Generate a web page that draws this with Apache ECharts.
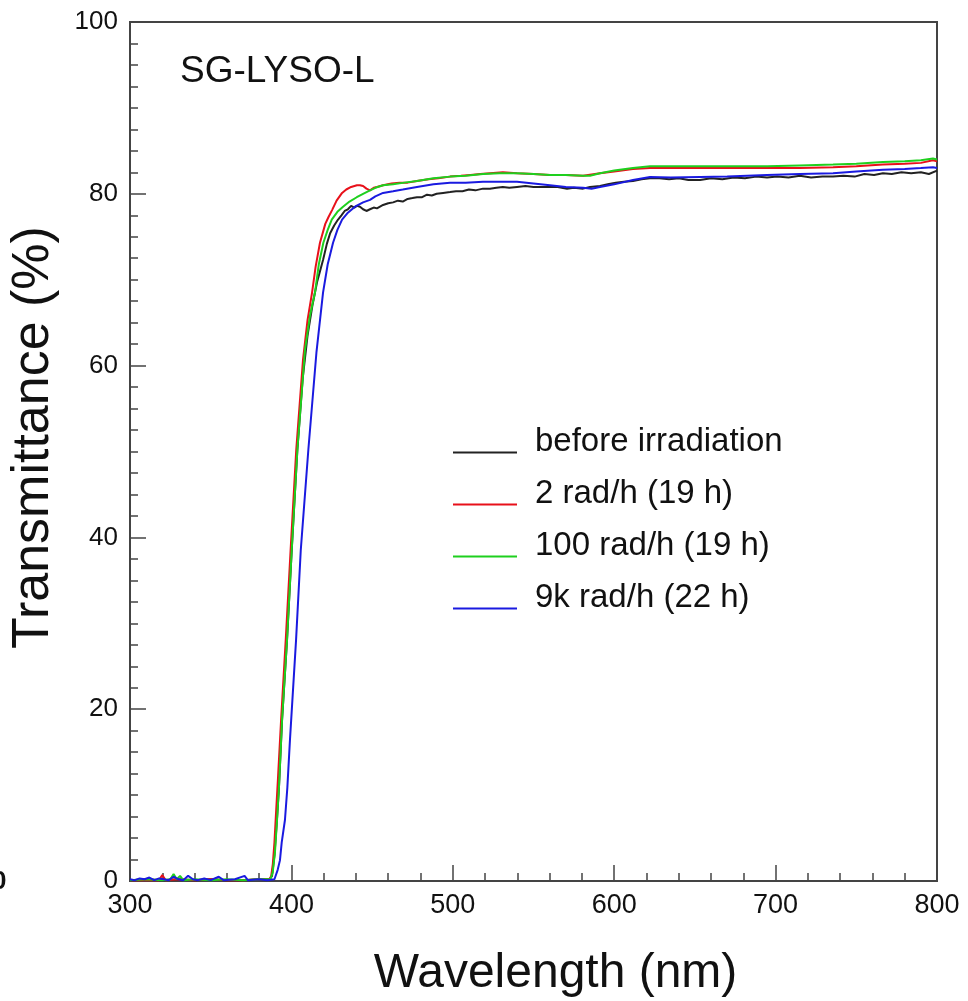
<!DOCTYPE html>
<html>
<head>
<meta charset="utf-8">
<script src="https://cdn.jsdelivr.net/npm/echarts@6/dist/echarts.min.js"></script>
<style>
html,body{margin:0;padding:0;background:#fff;}
#chart{width:968px;height:1001px;}
</style>
</head>
<body>
<div id="chart"></div>
<script>
// ---- data (wavelength nm, transmittance %) ----
const seriesNames = ['before irradiation', '2 rad/h (19 h)', '100 rad/h (19 h)', '9k rad/h (22 h)'];
const xTicks = [300, 400, 500, 600, 700, 800];
const yTicks = [0, 20, 40, 60, 80, 100];

const before = [[300,0.1],[310,0.2],[320,0.1],[330,0.2],[340,0.1],[350,0.2],[360,0.1],[370,0.1],[380,0.2],[386.5,0.2],[388,0.6],[389.5,3],[391,7],[392.3,10.9],[394.2,18.7],[397.3,28.1],[400.2,38.5],[403.7,50.2],[407,58.5],[410,63.5],[413,67.0],[416,69.8],[419.6,72.3],[422,74.2],[424,75.4],[426.5,76.3],[428.9,77.0],[431,77.5],[433,78.0],[435,78.2],[437,78.6],[439,78.4],[440.6,78.6],[442.5,78.5],[444.4,78.2],[446.5,78.0],[448.7,78.2],[451,78.4],[453,78.3],[456.8,78.7],[460,78.9],[463,79.0],[466,79.2],[469,79.1],[472,79.4],[475,79.5],[477.8,79.6],[481,79.6],[484,79.9],[487,79.8],[490,80.0],[494,80.1],[498.3,80.2],[502,80.3],[506,80.3],[510,80.5],[514,80.4],[518.7,80.6],[523,80.6],[527,80.7],[531,80.8],[535,80.7],[539.8,80.8],[545,80.9],[550,80.8],[555,80.8],[560.2,80.8],[565,80.8],[570.8,80.6],[575,80.7],[580.7,80.6],[585,80.8],[591.2,80.9],[596,81.1],[601,81.3],[606,81.4],[611.6,81.5],[617,81.7],[622.2,81.8],[628,81.8],[634,81.7],[640,81.8],[646,81.6],[653.2,81.6],[660,81.8],[667,81.7],[674,81.9],[681,81.8],[688,82.0],[694.7,81.9],[701,82.0],[708,81.9],[715,82.1],[722,81.9],[729,82.0],[735.6,82.0],[742,82.1],[749,82.0],[755,82.3],[761,82.2],[766.5,82.4],[772,82.3],[778,82.5],[784,82.4],[790,82.5],[795,82.3],[800,82.7]];

const rad2 = [[300,0.1],[310,0.1],[318,0.1],[320,0.7],[322,0.1],[330,0.2],[340,0.1],[350,0.2],[360,0.1],[370,0.1],[380,0.2],[386.5,0.2],[387.5,0.6],[388.5,2],[389.5,4.5],[390.5,8],[391.7,12],[393.6,18.7],[396.5,28.1],[399.5,38.5],[403,50.2],[407.2,60.7],[410,65.3],[412.8,68.5],[415,71.5],[417.7,74.3],[421,76.5],[423,77.3],[425.2,78.1],[428,79.2],[431.4,80.1],[434,80.5],[437,80.8],[440.6,81.0],[442.5,81.0],[444.4,80.9],[446.5,80.6],[448.7,80.4],[451,80.7],[453,80.8],[456.8,81.0],[462,81.2],[467,81.3],[472,81.3],[477.8,81.5],[485,81.7],[491,81.8],[498.3,82.0],[505,82.1],[511,82.2],[517,82.3],[523,82.4],[531,82.5],[539.8,82.4],[550,82.3],[560.2,82.2],[570,82.2],[580.7,82.1],[591.2,82.4],[600,82.6],[611.6,82.9],[622.2,83.0],[635,83.0],[653.2,83.0],[670,83.0],[694.7,83.0],[715,83.0],[735.6,83.1],[750,83.2],[766.5,83.4],[780,83.5],[790,83.6],[797.5,83.9],[800,83.8]];

const rad100 = [[300,0.1],[310,0.2],[320,0.1],[325,0.2],[327,0.8],[329,0.2],[331,0.6],[333,0.1],[340,0.2],[350,0.1],[360,0.2],[370,0.1],[380,0.2],[387,0.2],[388.4,1.0],[389.8,3.3],[391.1,7.1],[392.3,10.9],[394.2,18.7],[397.3,28.1],[400.2,38.5],[403.7,50.2],[408.4,61.8],[411.5,65.8],[414.6,68.5],[417,71.8],[419.8,74.3],[422.5,75.8],[425,77.0],[428.5,77.9],[432,78.5],[436,79.1],[440.5,79.6],[444.4,80.0],[448.7,80.4],[452,80.7],[456.8,81.0],[463,81.1],[470,81.3],[477.8,81.5],[488,81.8],[498.3,82.0],[508,82.1],[518.7,82.3],[529,82.4],[539.8,82.4],[550,82.3],[560.2,82.2],[570,82.2],[580.7,82.1],[585,82.1],[591.2,82.4],[600,82.7],[611.6,83.0],[622.2,83.2],[635,83.2],[653.2,83.2],[670,83.2],[694.7,83.2],[715,83.3],[735.6,83.4],[750,83.5],[766.5,83.7],[780,83.8],[790,83.9],[797.5,84.1],[800,84.0]];

const rad9k = [[300,0.2],[303,0.1],[306,0.3],[309,0.2],[312,0.4],[315,0.1],[318,0.3],[321,0.2],[324,0.1],[327,0.5],[330,0.2],[333,0.1],[336,0.6],[339,0.2],[342,0.1],[346,0.3],[350,0.1],[355,0.5],[358,0.1],[365,0.2],[371,0.6],[373,0.1],[380,0.2],[385,0.1],[389.5,0.2],[390.5,0.4],[391.5,1.3],[392.9,2.4],[394,4.5],[396,7.1],[397.5,10.9],[399.1,16.4],[402.9,28.1],[405.8,38.5],[410.5,50.2],[415.5,61.5],[419.6,68.5],[422.5,71.8],[425.8,74.3],[428.5,75.8],[431.4,77.0],[435,77.8],[439.4,78.5],[444.4,79.0],[448.7,79.3],[452,79.7],[456.8,80.1],[463,80.3],[469,80.5],[477.8,80.8],[488,81.1],[498.3,81.3],[508,81.3],[518.7,81.4],[529,81.4],[539.8,81.4],[550,81.2],[560.2,81.0],[570,80.8],[580.7,80.7],[586,80.6],[591.2,80.8],[600,81.1],[611.6,81.6],[622.2,81.95],[635,81.9],[653.2,81.95],[670,82.0],[694.7,82.2],[715,82.3],[735.6,82.4],[750,82.6],[766.5,82.8],[780,82.9],[790,83.0],[797.5,83.1],[800,83.0]];

const seriesData = [before, rad2, rad100, rad9k];
const colors = ['#222222', '#e8101a', '#1ed01e', '#1a1ae0'];

const FONT = 'Liberation Sans, Arial, Helvetica, sans-serif';
const chart = echarts.init(document.getElementById('chart'), null, {renderer: 'canvas'});

const legendIcon = 'path://M0,0L0.05,0L0.05,0.05Z M0,22L64,22L64,24L0,24Z';

chart.setOption({
  animation: false,
  backgroundColor: '#ffffff',
  grid: {left: 130, right: 31, top: 22, bottom: 120, show: true, borderColor: '#444', borderWidth: 2,
    backgroundColor: 'transparent', containLabel: false, outerBoundsMode: 'none'},
  legend: {
    data: seriesNames,
    orient: 'vertical',
    left: 453, top: 425,
    padding: 0,
    itemGap: 19,
    itemWidth: 64, itemHeight: 24,
    icon: legendIcon,
    textStyle: {fontFamily: FONT, fontSize: 33, lineHeight: 33, color: '#111', padding: [0, 0, 0, 13]},
    selectedMode: false
  },
  xAxis: {
    type: 'value', min: 300, max: 800, interval: 100,
    name: 'Wavelength (nm)', nameLocation: 'middle', nameGap: 69,
    nameTextStyle: {fontFamily: FONT, fontSize: 48, color: '#111', padding: [0, 0, 0, 44]},
    axisLine: {show: true, lineStyle: {color: '#444', width: 2}},
    axisTick: {show: true, inside: true, length: 16, lineStyle: {color: '#444', width: 1.5}},
    minorTick: {show: true, splitNumber: 5, length: 8, lineStyle: {color: '#444', width: 1.5}},
    axisLabel: {fontFamily: FONT, fontSize: 27, color: '#111', margin: 11,
      formatter: v => xTicks.includes(v) ? String(v) : ''},
    splitLine: {show: false}
  },
  yAxis: {
    type: 'value', min: 0, max: 100, interval: 20,
    name: 'Transmittance (%)', nameLocation: 'middle', nameGap: 70,
    nameTextStyle: {fontFamily: FONT, fontSize: 52, color: '#111', padding: [0, 0, 0, 28]},
    axisLine: {show: true, lineStyle: {color: '#444', width: 2}},
    axisTick: {show: true, inside: true, length: 16, lineStyle: {color: '#444', width: 1.5}},
    minorTick: {show: true, splitNumber: 8, length: 8, lineStyle: {color: '#444', width: 1.5}},
    axisLabel: {fontFamily: FONT, fontSize: 26, color: '#111', margin: 12,
      formatter: v => yTicks.includes(v) ? String(v) : ''},
    splitLine: {show: false}
  },
  graphic: [
    {type: 'text', left: 180, top: 53, style: {text: 'SG-LYSO-L', fontFamily: FONT, fontSize: 37, fill: '#111'}},
    {type: 'text', left: -8, top: 869, style: {text: '0', fontFamily: FONT, fontSize: 26, fontWeight: 'bold', fill: '#111'}}
  ],
  series: seriesNames.map((n, i) => ({
    name: n, type: 'line', data: seriesData[i], showSymbol: false, symbol: 'none',
    lineStyle: {color: colors[i], width: 2}, itemStyle: {color: colors[i]},
    z: 2 + i
  }))
});
</script>
</body>
</html>
